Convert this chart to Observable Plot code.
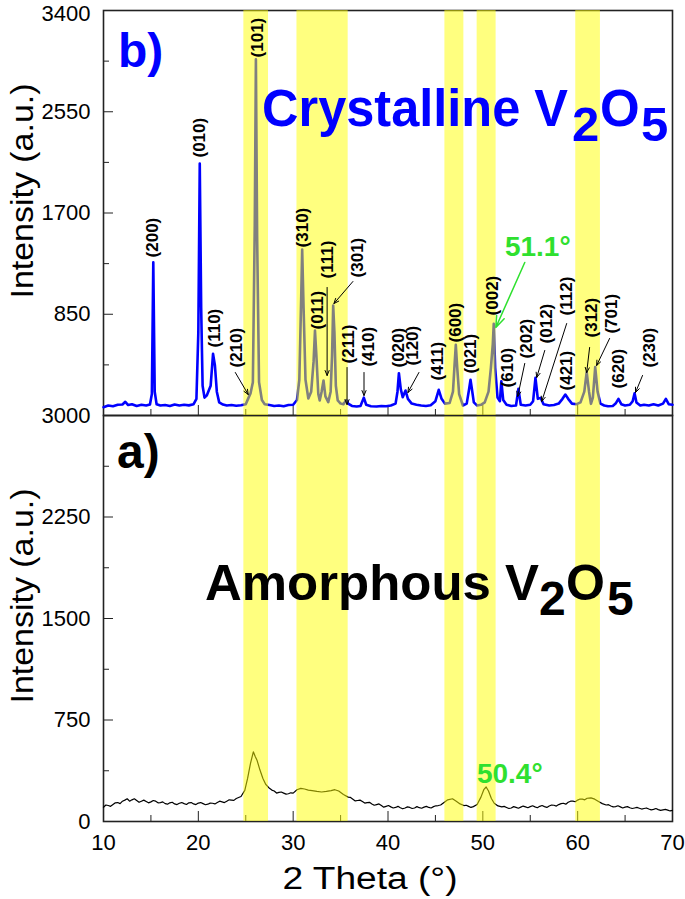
<!DOCTYPE html>
<html><head><meta charset="utf-8">
<script src="https://cdn.jsdelivr.net/npm/d3@7"></script>
<script src="https://cdn.jsdelivr.net/npm/@observablehq/plot@0.6"></script>
<style>
body{margin:0;background:#fff;}
#wrap{position:relative;width:685px;height:899px;overflow:hidden;font-family:"Liberation Sans",Arial,sans-serif;}
#wrap svg.plot{position:absolute;left:0;}
#overlay{position:absolute;left:0;top:0;pointer-events:none;}
</style></head><body><div id="wrap"></div>
<script>
// ---------- data ----------
const xTicks = [10, 20, 30, 40, 50, 60, 70];
const xMinor = [15, 25, 35, 45, 55, 65];
const topTicks = [850, 1700, 2550, 3400];
const topMinor = [425, 1275, 2125, 2975];
const botTicks = [0, 750, 1500, 2250, 3000];
const botMinor = [375, 1125, 1875, 2625];

const bandLo = [24.8, 30.4, 46.0, 49.4, 59.8];
const bandHi = [27.4, 35.8, 48.0, 51.4, 62.4];

// crystalline V2O5 (traced)
const crysTheta = [10.0,10.5,11.0,11.5,12.0,12.3,12.6,13.0,13.5,14.0,14.5,14.9,15.1,15.25,15.4,15.6,16.0,16.5,17.0,17.5,18.0,18.5,19.0,19.5,19.8,20.0,20.15,20.3,20.45,20.65,20.9,21.3,21.55,21.75,21.95,22.2,22.6,23.0,23.5,24.0,24.5,25.0,25.3,25.5,25.75,25.95,26.07,26.2,26.4,26.7,27.0,27.5,28.0,28.5,29.0,29.5,30.0,30.4,30.65,30.85,30.95,31.1,31.3,31.6,31.9,32.15,32.3,32.45,32.65,32.8,33.0,33.2,33.4,33.7,33.95,34.1,34.22,34.35,34.5,34.7,35.0,35.3,35.6,35.8,36.2,36.7,37.1,37.45,37.7,38.2,38.8,39.3,39.8,40.3,40.8,41.0,41.15,41.35,41.55,41.85,42.1,42.5,43.0,43.5,44.0,44.5,45.0,45.35,45.65,46.0,46.5,46.85,47.0,47.15,47.3,47.5,47.9,48.3,48.55,48.7,48.85,49.05,49.4,49.8,50.2,50.6,50.85,51.05,51.15,51.3,51.55,51.8,51.95,52.15,52.5,53.0,53.5,53.75,54.0,54.5,55.0,55.3,55.55,55.8,56.1,56.4,57.0,57.5,58.0,58.4,58.7,59.0,59.4,59.9,60.3,60.7,60.95,61.2,61.4,61.6,61.85,62.1,62.4,62.8,63.2,63.7,64.0,64.3,64.6,65.0,65.5,65.8,66.0,66.2,66.6,67.0,67.5,68.0,68.5,69.0,69.3,69.6,70.0];
const crysInt = [70,84,78,90,92,115,88,95,80,90,84,92,180,1287,200,95,84,88,80,92,84,90,85,95,140,700,2116,900,250,150,170,250,518,420,200,110,92,84,88,82,86,95,150,185,280,1600,2990,1500,280,130,95,88,80,84,78,88,90,130,300,1000,1394,900,300,143,200,450,714,500,180,126,200,294,160,112,200,500,924,700,250,126,100,95,130,100,80,75,80,150,90,78,75,80,78,84,100,200,355,220,154,210,140,100,90,84,80,86,120,216,140,100,105,200,400,593,400,180,84,100,220,300,220,110,84,90,110,200,400,600,770,400,150,120,288,130,90,80,84,224,90,84,90,120,316,140,148,95,84,88,100,140,176,140,100,95,110,200,364,200,98,150,406,200,100,84,78,80,100,140,95,84,90,120,187,110,84,90,84,95,84,100,140,95,90];

// amorphous V2O5 (traced)
const amorTheta = [10.0,10.5,11.0,11.5,12.0,12.5,13.0,13.5,14.0,14.5,15.0,15.5,16.0,16.5,17.0,17.5,18.0,18.5,19.0,19.5,20.0,20.5,21.0,21.5,22.0,22.5,23.0,23.5,24.0,24.5,24.9,25.2,25.5,25.8,26.0,26.2,26.5,26.8,27.1,27.5,28.0,28.5,29.0,29.5,30.0,30.4,30.8,31.2,31.6,32.0,32.5,33.0,33.5,34.0,34.4,34.8,35.3,35.8,36.3,36.8,37.3,37.8,38.3,38.8,39.3,39.8,40.3,40.8,41.3,41.8,42.3,42.8,43.3,43.8,44.3,44.8,45.3,45.8,46.3,46.8,47.2,47.6,48.0,48.5,49.0,49.4,49.8,50.1,50.35,50.6,50.9,51.2,51.6,52.0,52.5,53.0,53.5,54.0,54.5,55.0,55.5,56.0,56.5,57.0,57.5,58.0,58.5,59.0,59.5,60.0,60.5,61.0,61.4,61.8,62.2,62.6,63.0,63.5,64.0,64.5,65.0,65.5,66.0,66.5,67.0,67.5,68.0,68.5,69.0,69.5,70.0];
const amorInt = [105,118,125,140,150,168,160,155,150,148,145,150,140,132,138,130,135,132,138,130,136,132,128,135,140,145,150,158,170,185,230,320,430,515,480,450,380,320,275,245,225,215,210,205,210,235,245,240,232,228,222,218,222,228,235,225,200,180,165,155,148,140,130,125,118,112,108,104,102,100,104,100,102,106,104,110,118,135,160,168,150,130,118,112,110,125,180,235,255,225,170,135,115,108,104,100,104,106,108,110,108,112,110,115,120,125,135,142,150,158,165,172,175,165,148,132,122,115,110,108,106,102,100,98,96,92,90,88,86,84,82];
// amorphous trace: in-between readings of the noisy background
const amorThetaFine = [10.25,10.75,11.25,11.75,12.25,12.75,13.25,13.75,14.25,14.75,15.25,15.75,16.25,16.75,17.25,17.75,18.25,18.75,19.25,19.75,20.25,20.75,21.25,21.75,22.25,22.75,23.25,23.75,27.75,28.25,28.75,29.25,29.75,36.05,36.55,37.05,37.55,38.05,38.55,39.05,39.55,40.05,40.55,41.05,41.55,42.05,42.55,43.05,43.55,44.05,44.55,45.05,45.55,48.25,48.75,52.25,52.75,53.25,53.75,54.25,54.75,55.25,55.75,56.25,56.75,57.25,57.75,58.25,58.75,59.25,59.75,60.25,60.75,63.25,63.75,64.25,64.75,65.25,65.75,66.25,66.75,67.25,67.75,68.25,68.75,69.25,69.75];
const amorIntFine = [122,112,138,132,158,150,168,142,158,138,155,138,145,128,142,125,140,126,140,125,140,124,136,130,150,140,160,156,232,210,218,202,212,178,152,158,136,142,120,130,106,118,100,112,94,108,96,110,98,112,100,116,122,120,104,112,96,110,98,114,102,116,102,118,104,122,114,132,128,150,146,166,160,124,108,116,100,110,96,104,92,100,86,96,82,90,78];

// peak index labels (text start point, theta / intensity)
const hklText = ["(200)","(010)","(110)","(210)","(101)","(310)","(011)","(111)","(301)","(211)","(410)","(020)","(120)","(411)","(600)","(021)","(002)","(610)","(202)","(012)","(112)","(421)","(312)","(701)","(620)","(230)"];
const hklX = [15.16,20.1,21.68,24.0,26.2,30.95,32.6,33.58,36.84,35.79,37.9,41.16,42.6,45.26,47.16,48.74,51.05,52.63,54.63,56.74,58.84,58.84,61.47,63.58,64.3,67.58];
const hklY = [1327,2166,571,403,3006,1411,722,1150,1159,437,411,403,420,294,613,353,840,235,479,605,840,210,655,688,227,403];

// pointer arrows (from, to)
const arrX1 = [23.9,33.58,36.3,35.68,37.47,43.26,54.42,56.53,58.84,61.26,63.37,66.84];
const arrY1 = [361,1075,1125,403,361,361,437,546,772,571,647,336];
const arrX2 = [25.26,33.58,34.3,35.68,37.47,42.1,53.68,55.68,56.21,60.95,62.0,66.1];
const arrY2 = [176,336,940,92,168,193,160,319,118,361,420,193];

// highlighted peak positions
const crysNote = ["51.1°"]; const crysNoteX = [55.79]; const crysNoteY = [1343];
const crysNoteArrow = {x1: 54.42, y1: 1285, x2: 51.37, y2: 739};
const amorNote = ["50.4°"]; const amorNoteX = [52.84]; const amorNoteY = [281];

// ---------- build ----------
const crys = crysTheta.map((t, i) => ({t, v: crysInt[i]}));
const amor = amorTheta.map((t, i) => ({t, v: amorInt[i]}))
  .concat(amorThetaFine.map((t, i) => ({t, v: amorIntFine[i]})))
  .sort((a, b) => a.t - b.t);
const bands = bandLo.map((lo, i) => ({lo, hi: bandHi[i]}));
const labels = hklText.map((s, i) => ({s, x: hklX[i], y: hklY[i]}));
const arrows = arrX1.map((x1, i) => ({x1, y1: arrY1[i], x2: arrX2[i], y2: arrY2[i]}));

const W = 685;
const FONT = "Liberation Sans, Arial, sans-serif";
const GREEN = "#2fe02f";
const common = {
  width: W, marginLeft: 103, marginRight: 13,
  x: {domain: [10, 70]},
  style: {fontFamily: FONT, fontSize: "22px", color: "#000", background: "transparent", overflow: "visible"}
};
const fmt = d => String(d);
const none = () => "";

const topPlot = Plot.plot({
  ...common, height: 420, marginTop: 10, marginBottom: 5,
  y: {domain: [0, 3400]},
  marks: [
    Plot.axisY(topTicks, {tickSize: -10, tickFormat: none, label: null, stroke: "#222"}),
    Plot.axisY(topTicks.slice(0, 3), {tickSize: 0, tickPadding: 13, tickFormat: fmt, label: null}),
    Plot.axisY(topTicks.slice(3), {tickSize: 0, tickPadding: 13, tickFormat: fmt, label: null, dy: 3}),
    Plot.axisY(topMinor, {tickSize: -6, tickFormat: none, label: null, stroke: "#222"}),
    Plot.axisX(xTicks, {tickSize: -10, tickFormat: none, label: null, stroke: "#222"}),
    Plot.axisX(xMinor, {tickSize: -6, tickFormat: none, label: null, stroke: "#222"}),
    Plot.frame({stroke: "#222", strokeWidth: 1.6}),
    Plot.line(crys, {x: "t", y: "v", stroke: "#0000ff", strokeWidth: 2.6}),
    Plot.rect(bands, {x1: "lo", x2: "hi", fill: "#ffff00", fillOpacity: 0.5}),
    Plot.arrow(arrows, {x1: "x1", y1: "y1", x2: "x2", y2: "y2", stroke: "#000", strokeWidth: 1, headLength: 8, headAngle: 45}),
    Plot.arrow([crysNoteArrow], {x1: "x1", y1: "y1", x2: "x2", y2: "y2", stroke: GREEN, strokeWidth: 1.5, headLength: 12, headAngle: 40}),
    Plot.text(labels, {x: "x", y: "y", text: "s", rotate: -90, textAnchor: "start", fontWeight: "bold", fontSize: 17, fill: "#000"}),
    Plot.text(crysNote, {x: (d, i) => crysNoteX[i], y: (d, i) => crysNoteY[i], text: d => d, fill: GREEN, fontWeight: "bold", fontSize: 28, lineAnchor: "bottom"})
  ]
});

const botPlot = Plot.plot({
  ...common, height: 494, marginTop: 10, marginBottom: 78,
  y: {domain: [0, 3000]},
  marks: [
    Plot.axisY(botTicks, {tickSize: -10, tickPadding: 23, tickFormat: fmt, label: null, stroke: "#222"}),
    Plot.axisY(botMinor, {tickSize: -6, tickFormat: none, label: null, stroke: "#222"}),
    Plot.axisX(xTicks, {tickSize: -10, tickPadding: 23, tickFormat: fmt, label: null, stroke: "#222"}),
    Plot.axisX(xMinor, {tickSize: -6, tickFormat: none, label: null, stroke: "#222"}),
    Plot.frame({stroke: "#222", strokeWidth: 1.6}),
    Plot.line(amor, {x: "t", y: "v", stroke: "#000", strokeWidth: 1.2}),
    Plot.rect(bands, {x1: "lo", x2: "hi", fill: "#ffff00", fillOpacity: 0.5}),
    Plot.text(amorNote, {x: (d, i) => amorNoteX[i], y: (d, i) => amorNoteY[i], text: d => d, fill: GREEN, fontWeight: "bold", fontSize: 28, lineAnchor: "bottom"})
  ]
});

const wrap = document.getElementById("wrap");
topPlot.classList.add("plot"); topPlot.style.top = "0px";
botPlot.classList.add("plot"); botPlot.style.top = "405px";
wrap.appendChild(botPlot);
wrap.appendChild(topPlot);

// titles & panel annotations
const ns = "http://www.w3.org/2000/svg";
const ov = document.createElementNS(ns, "svg");
ov.setAttribute("id", "overlay"); ov.setAttribute("width", W); ov.setAttribute("height", 899);
function t(str, x, y, o = {}) {
  const e = document.createElementNS(ns, "text");
  e.textContent = str;
  e.setAttribute("x", x); e.setAttribute("y", y);
  e.setAttribute("font-family", FONT);
  e.setAttribute("font-size", o.size || 20);
  e.setAttribute("font-weight", o.weight || "normal");
  e.setAttribute("fill", o.fill || "#000");
  if (o.anchor) e.setAttribute("text-anchor", o.anchor);
  if (o.len) { e.setAttribute("textLength", o.len); e.setAttribute("lengthAdjust", "spacingAndGlyphs"); }
  if (o.rot) e.setAttribute("transform", `rotate(${o.rot} ${x} ${y})`);
  ov.appendChild(e);
}
const BLUE = "#0000ff";
t("b)", 118, 67, {size: 48, weight: "bold", fill: BLUE});
t("Crystalline V", 262, 126, {size: 51, weight: "bold", fill: BLUE, len: 306});
t("2", 572, 141, {size: 49, weight: "bold", fill: BLUE});
t("O", 600, 126, {size: 51, weight: "bold", fill: BLUE});
t("5", 641, 141, {size: 49, weight: "bold", fill: BLUE});
t("a)", 117, 468, {size: 48, weight: "bold"});
t("Amorphous V", 205, 600, {size: 50, weight: "bold", len: 334});
t("2", 539, 615, {size: 48, weight: "bold"});
t("O", 566, 600, {size: 50, weight: "bold"});
t("5", 607, 615, {size: 48, weight: "bold"});
t("Intensity (a.u.)", 33, 191, {size: 32, anchor: "middle", rot: -90, len: 215});
t("Intensity (a.u.)", 33, 596, {size: 32, anchor: "middle", rot: -90, len: 215});
t("2 Theta (°)", 370, 889, {size: 31, anchor: "middle", len: 175});
wrap.appendChild(ov);
</script></body></html>
